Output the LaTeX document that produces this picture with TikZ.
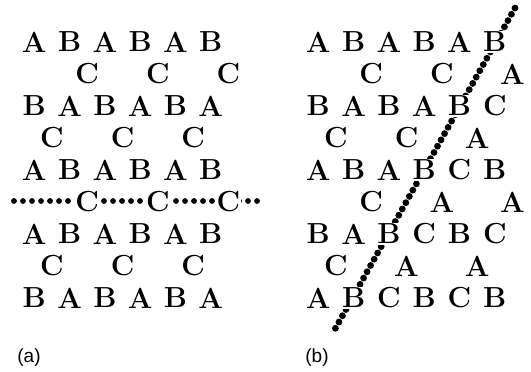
\documentclass[tikz,border=0pt]{standalone}
\usepackage{fontspec}
\newfontfamily\capfont{Liberation Sans}
\tikzset{
  tiling/.style={x=0.5pt,y=-0.5pt},
  tile/.style={fill=white,inner sep=0.6pt,font=\fontsize{14.5}{16}\selectfont\bfseries},
  dotline/.style args={#1/#2}{line width=#1,line cap=round,dash pattern=on 0pt off #2},
  caption/.style={font=\capfont\fontsize{9.5}{11}\selectfont}
}

\begin{document}
\begin{tikzpicture}[tiling]
  \useasboundingbox (0,0) rectangle (531,371);
  % the two cuts
  \coordinate (acut-l) at (14,201);
  \coordinate (acut-r) at (266,201);
  \coordinate (bcut-t) at (515,8);
  \coordinate (bcut-b) at (335,329);
  \draw[dotline={2.9pt/4.5pt}] (acut-l) -- (acut-r);
  \draw[dotline={3.4pt/3.6pt}] (bcut-t) -- (bcut-b);
  % (a): mirrored at row 5
  \foreach \r/\k/\s/\txt in {0/1/1/{A,B,A,B,A,B},1/2.5/2/{C,C,C},2/1/1/{B,A,B,A,B,A},
      3/1.5/2/{C,C,C},4/1/1/{A,B,A,B,A,B},5/2.5/2/{C,C,C},6/1/1/{A,B,A,B,A,B},
      7/1.5/2/{C,C,C},8/1/1/{B,A,B,A,B,A}}
    \foreach \ch [count=\i] in \txt
      \node[tile] (a\r-\i) at ({35.3*(\k+\s*(\i-1))-1},{42+32*\r}) {\ch};
  % (b): shifted at the slanted cut
  \foreach \r/\k/\s/\txt in {0/1/1/{A,B,A,B,A,B},1/2.5/2/{C,C,A},2/1/1/{B,A,B,A,B,C},
      3/1.5/2/{C,C,A},4/1/1/{A,B,A,B,C,B},5/2.5/2/{C,A,A},6/1/1/{B,A,B,C,B,C},
      7/1.5/2/{C,A,A},8/1/1/{A,B,C,B,C,B}}
    \foreach \ch [count=\i] in \txt
      \node[tile] (b\r-\i) at ({283+35.3*(\k+\s*(\i-1))},{42+32*\r}) {\ch};
  \node[caption] (cap-a) at (29,358) {(a)};
  \node[caption] (cap-b) at (317,358) {(b)};
\end{tikzpicture}
\end{document}
